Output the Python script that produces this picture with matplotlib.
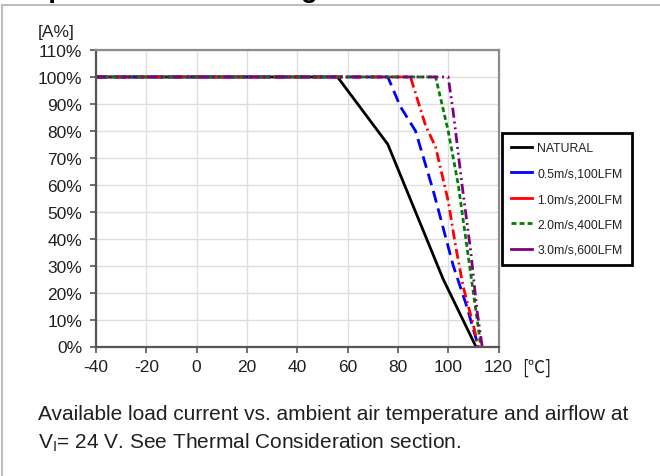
import matplotlib
matplotlib.use("Agg")
import matplotlib.pyplot as plt
from matplotlib.lines import Line2D

plt.rcParams['font.family'] = ['Liberation Sans', 'DejaVu Sans']
plt.rcParams['axes.unicode_minus'] = False

# Derating curves: ambient temperature [C] vs available load [%]
temp_natural = [-40, 56, 76, 87, 98, 111]
load_natural = [100, 100, 75, 50, 25, 0]

temp_05 = [-40, 76, 81, 87, 94, 102, 107, 112]
load_05 = [100, 100, 89, 80, 58, 30, 16, 0]

temp_10 = [-40, 85, 91, 95, 100, 103, 106, 110, 112]
load_10 = [100, 100, 82, 74, 54, 37, 22, 8, 0]

temp_20 = [-40, 95, 100, 104, 110, 113]
load_20 = [100, 100, 80, 60, 20, 0]

temp_30 = [-40, 100, 102, 105.5, 109, 111.5, 113.5]
load_30 = [100, 100, 87, 60, 35, 13, 0]

labels = ["NATURAL", "0.5m/s,100LFM", "1.0m/s,200LFM", "2.0m/s,400LFM", "3.0m/s,600LFM"]
colors = ["black", "#0000ff", "#ff0000", "#008000", "#800080"]

x_ticks = list(range(-40, 121, 20))
y_ticks = list(range(0, 111, 10))

txt = '#202020'

fig = plt.figure(figsize=(6.6, 4.77), dpi=100)
ax = fig.add_axes([96 / 660, 1 - 347.5 / 477, 402.5 / 660, 296.5 / 477])

lw = 2.0
ax.plot(temp_natural, load_natural, color=colors[0], lw=lw, solid_capstyle='butt')
ax.plot(temp_05, load_05, color=colors[1], lw=lw, dashes=(4.3, 2.2))
ax.plot(temp_10, load_10, color=colors[2], lw=lw, dashes=(3.6, 1.4, 0.7, 1.4))
ax.plot(temp_20, load_20, color=colors[3], lw=lw, dashes=(1.8, 1.1))
ax.plot(temp_30, load_30, color=colors[4], lw=lw, dashes=(3.6, 1.4, 0.7, 1.4, 0.7, 1.4))

ax.set_xlim(-40, 120)
ax.set_ylim(0, 110)
ax.set_xticks(x_ticks)
ax.set_yticks(y_ticks)
ax.set_yticklabels([f"{v}%" for v in y_ticks])
ax.grid(True, color='#dedede', lw=1)
ax.set_axisbelow(True)
ax.tick_params(axis='both', labelsize=12.5, labelcolor=txt, color='#555555',
               length=4, width=1.2)
ax.tick_params(axis='y', pad=6)
ax.tick_params(axis='x', pad=5)

for side in ['left', 'bottom']:
    ax.spines[side].set_color('#555555')
    ax.spines[side].set_linewidth(1.6)
for side in ['top', 'right']:
    ax.spines[side].set_color('#8c8c8c')
    ax.spines[side].set_linewidth(1.6)

# legend (short solid segments, like the original)
handles = [
    Line2D([], [], color=colors[0], lw=lw),
    Line2D([], [], color=colors[1], lw=lw),
    Line2D([], [], color=colors[2], lw=lw),
    Line2D([], [], color=colors[3], lw=lw, dashes=(1.8, 1.1)),
    Line2D([], [], color=colors[4], lw=lw),
]
leg = ax.legend(handles, labels, loc='upper left', bbox_to_anchor=(501.7 / 660, 1 - 134 / 477),
                bbox_transform=fig.transFigure, borderaxespad=0, fontsize=8.8,
                frameon=True, fancybox=False, edgecolor='black', framealpha=1,
                handlelength=1.7, handletextpad=0.45, labelspacing=1.1, borderpad=0.75)
leg.get_frame().set_linewidth(2.0)
for t in leg.get_texts():
    t.set_color(txt)

# unit labels
fig.text(38 / 660, 1 - 33 / 477, "[A%]", fontsize=12.5, color=txt, va='center', ha='left')
fig.text(522 / 660, 1 - 368 / 477, "[℃]", fontsize=12.5, color=txt, va='center', ha='left',
         family=['Noto Sans CJK JP', 'DejaVu Sans'])

# caption
fig.text(38 / 660, 1 - 415 / 477,
         "Available load current vs. ambient air temperature and airflow at",
         fontsize=15, color=txt, va='center', ha='left')
fig.text(38 / 660, 1 - 443 / 477,
         r"V$_\mathregular{I}$= 24 V. See Thermal Consideration section.",
         fontsize=15, color=txt, va='center', ha='left')

# heading cut off by the page crop (as in the source page)
fig.text(1 / 660, 1 + 2.8 / 477, "Output Current Derating", fontsize=19.8,
         fontweight='bold', color='black', va='baseline', ha='left')

# page frame lines
fig.add_artist(Line2D([2 / 660, 1], [1 - 6 / 477, 1 - 6 / 477], transform=fig.transFigure,
                      color='#bdbdbd', lw=1.5))
fig.add_artist(Line2D([2 / 660, 2 / 660], [0, 1 - 6 / 477], transform=fig.transFigure,
                      color='#bdbdbd', lw=1.5))

fig.savefig("out.png", dpi=100)
